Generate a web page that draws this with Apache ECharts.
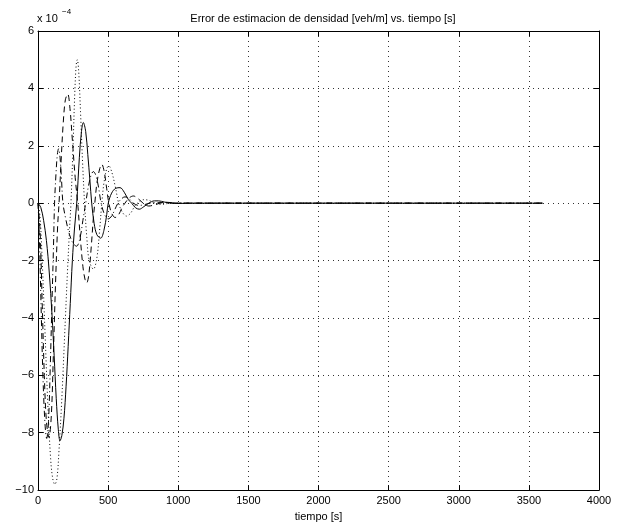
<!DOCTYPE html>
<html>
<head>
<meta charset="utf-8">
<script src="https://cdn.jsdelivr.net/npm/echarts@6/dist/echarts.min.js"></script>
<style>html,body{margin:0;padding:0;background:#fff}#c{width:623px;height:527px}</style>
</head>
<body>
<div id="c"></div>
<script>
// Values of the error are in units of 1e-4 veh/m (axis shows "x 10^-4")
const xTicks = [0, 500, 1000, 1500, 2000, 2500, 3000, 3500, 4000];
const yTicks = [-10, -8, -6, -4, -2, 0, 2, 4, 6];

// solid line
const tSolid = [0,20,40,60,80,100,115,130,145,157,170,185,200,215,230,245,260,276,295,310,323,340,355,370,383,400,420,447,470,490,501,525,555,585,615,645,668,695,722,755,790,830,860,900,950,1000,1100,3600];
const eSolid = [0,-0.15,-0.6,-1.3,-2.4,-3.9,-5.3,-6.8,-7.9,-8.28,-8.1,-7.5,-6.4,-5.0,-3.5,-2.0,-0.9,0,1.6,2.5,2.81,2.5,1.7,0.8,0,-0.7,-1.1,-1.22,-0.95,-0.4,0,0.35,0.52,0.54,0.38,0.12,0,-0.16,-0.21,-0.12,0,0.08,0.08,0.04,0,-0.01,0,0];

// dashed line
const tDash = [0,15,30,45,60,78,95,110,125,140,150,165,180,195,212,228,245,265,283,300,320,335,347,362,380,395,405,420,440,455,472,490,505,525,550,575,600,620,650,680,715,750,790,830,870,920,1000,3600];
const eDash = [0,-1.0,-3.5,-6.0,-7.6,-8.16,-7.4,-5.2,-2.8,-0.8,0,1.5,2.8,3.6,3.8,3.3,2.2,0.9,0,-1.1,-2.2,-2.65,-2.78,-2.5,-1.5,-0.5,0,0.7,1.2,1.35,1.1,0.5,0,-0.35,-0.5,-0.4,-0.15,0,0.18,0.25,0.15,0,-0.1,-0.06,0,0.03,0,0];

// dotted line
const tDot = [0,15,30,50,70,90,105,120,135,150,170,190,210,225,235,250,262,272,280,290,303,318,332,348,365,395,420,440,455,470,490,505,525,550,575,600,630,660,690,710,750,790,830,880,950,1100,3600];
const eDot = [0,-0.5,-2.0,-4.5,-7.0,-8.9,-9.6,-9.8,-9.6,-8.6,-6.8,-4.6,-2.4,-0.9,0,2.0,3.8,4.8,5.0,4.6,3.2,1.4,0,-1.2,-2.0,-2.3,-1.9,-0.9,0,0.7,1.2,1.3,1.1,0.6,0,-0.3,-0.45,-0.35,-0.1,0,0.12,0.1,0,-0.04,0,0,0];

// dash-dot line
const tDashDot = [0,10,20,35,50,62,75,88,100,110,118,128,138,147,157,168,178,200,225,250,275,300,320,340,360,380,395,410,430,450,475,500,525,550,570,595,620,650,680,720,760,800,900,1000,3600];
const eDashDot = [0,-1.2,-3.2,-6.0,-7.7,-8.2,-7.6,-5.6,-3.4,-1.6,0,1.0,1.7,1.9,1.6,0.8,0,-0.6,-1.1,-1.4,-1.5,-1.2,-0.6,0,0.6,1.0,1.1,1.0,0.6,0,-0.4,-0.55,-0.45,-0.2,0,0.15,0.22,0.15,0,-0.08,-0.05,0,0.02,0,0];

function zip(t, e) { return t.map((x, i) => [x, e[i]]); }

const FONT = 'Liberation Sans, Arial, Helvetica, sans-serif';
const chart = echarts.init(document.getElementById('c'), null, {renderer: 'canvas'});

const xMin = xTicks[0], xMax = xTicks[xTicks.length - 1], xInt = xTicks[1] - xTicks[0];
const yMin = yTicks[0], yMax = yTicks[yTicks.length - 1], yInt = yTicks[1] - yTicks[0];

function xAxisCfg(pos, main) {
  return {
    type: 'value', position: pos, min: xMin, max: xMax, interval: xInt,
    axisLine: {show: true, onZero: false, lineStyle: {color: '#000', width: 1}},
    axisTick: {show: true, inside: true, length: 5, lineStyle: {color: '#000'}},
    axisLabel: {show: main, color: '#000', fontSize: 11, fontFamily: FONT, margin: 5,
      formatter: v => String(v)},
    splitLine: {show: main, lineStyle: {color: '#000', type: [1, 4], width: 1, opacity: 0.8}},
    name: main ? 'tiempo [s]' : '', nameLocation: 'middle', nameGap: 20,
    nameTextStyle: {color: '#000', fontSize: 11, fontFamily: FONT}
  };
}
function yAxisCfg(pos, main) {
  return {
    type: 'value', position: pos, min: yMin, max: yMax, interval: yInt,
    axisLine: {show: true, onZero: false, lineStyle: {color: '#000', width: 1}},
    axisTick: {show: true, inside: true, length: 5, lineStyle: {color: '#000'}},
    axisLabel: {show: main, color: '#000', fontSize: 11, fontFamily: FONT, margin: 4,
      formatter: v => String(v).replace('-', '\u2212')},
    splitLine: {show: main, lineStyle: {color: '#000', type: [1, 4], width: 1, opacity: 0.8}}
  };
}
function line(data, type, name) {
  return {
    name: name, type: 'line', data: data, showSymbol: false, smooth: 0.35,
    xAxisIndex: 0, yAxisIndex: 0,
    lineStyle: {color: '#000', width: 1, type: type},
    emphasis: {disabled: true}
  };
}

chart.setOption({
  animation: false,
  backgroundColor: '#fff',
  title: {
    text: 'Error de estimacion de densidad [veh/m] vs. tiempo [s]',
    left: 318, top: 8, textAlign: 'center',
    textStyle: {fontSize: 11, fontWeight: 'normal', color: '#000', fontFamily: FONT}
  },
  grid: {left: 38, right: 24, top: 31, bottom: 34, containLabel: false},
  xAxis: [xAxisCfg('bottom', true), xAxisCfg('top', false)],
  yAxis: [yAxisCfg('left', true), yAxisCfg('right', false)],
  graphic: [
    {type: 'text', left: 37, top: 13, style: {text: 'x 10', fontSize: 11, fill: '#000', fontFamily: FONT}},
    {type: 'text', left: 62, top: 8, style: {text: '\u22124', fontSize: 8, fill: '#000', fontFamily: FONT}}
  ],
  series: [
    line(zip(tDot, eDot), [1, 2.5], 'dotted'),
    line(zip(tDashDot, eDashDot), [6, 3, 1, 3], 'dashdot'),
    line(zip(tDash, eDash), [6, 4], 'dashed'),
    line(zip(tSolid, eSolid), 'solid', 'solid')
  ]
});
</script>
</body>
</html>
